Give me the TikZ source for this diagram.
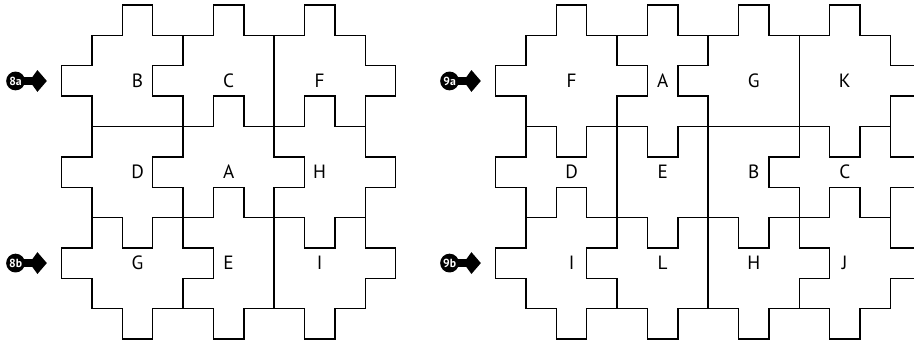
\documentclass[tikz,border=0pt]{standalone}
\usepackage{fontspec}
\setmainfont{PT Sans}
\usetikzlibrary{arrows.meta,backgrounds}

% costat horitzontal i vertical d'una peca (1 = pestanya enfora, -1 = endins, 0 = pla)
\newcommand{\puzH}[3]{\draw (#1,#2) -- ++(1,0) -- ++(0,#3) -- ++(1,0) -- (#1+2,#2) -- (#1+3,#2);}
\newcommand{\puzV}[3]{\draw (#1,#2) -- ++(0,1) -- ++(#3,0) -- ++(0,1) -- (#1,#2+2) -- (#1,#2+3);}

\tikzset{
  vora/.style={line width=1.3pt, line cap=rect, line join=miter},
  lletra/.style={font=\fontsize{18}{20}\selectfont},
  insignia/.style={circle, fill=black, text=white, inner sep=0pt, minimum size=0.62cm,
    font=\bfseries\fontsize{11}{11}\selectfont},
  fletxa/.style={line width=0.26cm, shorten <=-2mm,
    -{Kite[length=0.57cm, width=0.72cm, inset=0.26cm]}}
}

\begin{document}
\begin{tikzpicture}
    \useasboundingbox (0,0) rectangle (30.115,11.268);

    % Trencaclosques 8
    \begin{scope}[shift={(2.033,0.1)}, vora]
        \foreach \x/\y/\t in {1/10/1, 4/10/1, 7/10/1,
                              1/7/0, 4/7/1, 7/7/1,
                              1/4/-1, 4/4/1, 7/4/-1,
                              1/1/-1, 4/1/-1, 7/1/-1}
            \puzH{\x}{\y}{\t};
        \foreach \x/\y/\t in {1/7/-1, 1/4/-1, 1/1/-1,
                              4/7/-1, 4/4/-1, 4/1/1,
                              7/7/0, 7/4/1, 7/1/0,
                              10/7/1, 10/4/1, 10/1/1}
            \puzV{\x}{\y}{\t};

        \node[lletra] (p8B) at (2.5,8.5) {B};
        \node[lletra] (p8C) at (5.5,8.5) {C};
        \node[lletra] (p8F) at (8.5,8.5) {F};
        \node[lletra] (p8D) at (2.5,5.5) {D};
        \node[lletra] (p8A) at (5.5,5.5) {A};
        \node[lletra] (p8H) at (8.5,5.5) {H};
        \node[lletra] (p8G) at (2.5,2.5) {G};
        \node[lletra] (p8E) at (5.5,2.5) {E};
        \node[lletra] (p8I) at (8.5,2.5) {I};

        % Fletxes d'entrada
        \node[insignia] (b8a) at (-1.52,8.5) {8a};
        \coordinate (e8a) at (-0.49,8.5);
        \node[insignia] (b8b) at (-1.52,2.5) {8b};
        \coordinate (e8b) at (-0.49,2.5);
        \begin{pgfonlayer}{background}
            \draw[fletxa] (b8a) -- (e8a);
            \draw[fletxa] (b8b) -- (e8b);
        \end{pgfonlayer}
    \end{scope}

    % Trencaclosques 9
    \begin{scope}[shift={(16.333,0.1)}, vora]
        \foreach \x/\y/\t in {1/10/1, 4/10/1, 7/10/1, 10/10/1,
                              1/7/-1, 4/7/-1, 7/7/0, 10/7/-1,
                              1/4/1, 4/4/-1, 7/4/-1, 10/4/1,
                              1/1/-1, 4/1/-1, 7/1/-1, 10/1/-1}
            \puzH{\x}{\y}{\t};
        \foreach \x/\y/\t in {1/7/-1, 1/4/-1, 1/1/-1,
                              4/7/1, 4/4/0, 4/1/-1,
                              7/7/-1, 7/4/0, 7/1/0,
                              10/7/0, 10/4/-1, 10/1/1,
                              13/7/1, 13/4/1, 13/1/1}
            \puzV{\x}{\y}{\t};

        \node[lletra] (p9F) at (2.5,8.5) {F};
        \node[lletra] (p9A) at (5.5,8.5) {A};
        \node[lletra] (p9G) at (8.5,8.5) {G};
        \node[lletra] (p9K) at (11.5,8.5) {K};
        \node[lletra] (p9D) at (2.5,5.5) {D};
        \node[lletra] (p9E) at (5.5,5.5) {E};
        \node[lletra] (p9B) at (8.5,5.5) {B};
        \node[lletra] (p9C) at (11.5,5.5) {C};
        \node[lletra] (p9I) at (2.5,2.5) {I};
        \node[lletra] (p9L) at (5.5,2.5) {L};
        \node[lletra] (p9H) at (8.5,2.5) {H};
        \node[lletra] (p9J) at (11.5,2.5) {J};

        % Fletxes d'entrada
        \node[insignia] (b9a) at (-1.52,8.5) {9a};
        \coordinate (e9a) at (-0.49,8.5);
        \node[insignia] (b9b) at (-1.52,2.5) {9b};
        \coordinate (e9b) at (-0.49,2.5);
        \begin{pgfonlayer}{background}
            \draw[fletxa] (b9a) -- (e9a);
            \draw[fletxa] (b9b) -- (e9b);
        \end{pgfonlayer}
    \end{scope}
\end{tikzpicture}
\end{document}
